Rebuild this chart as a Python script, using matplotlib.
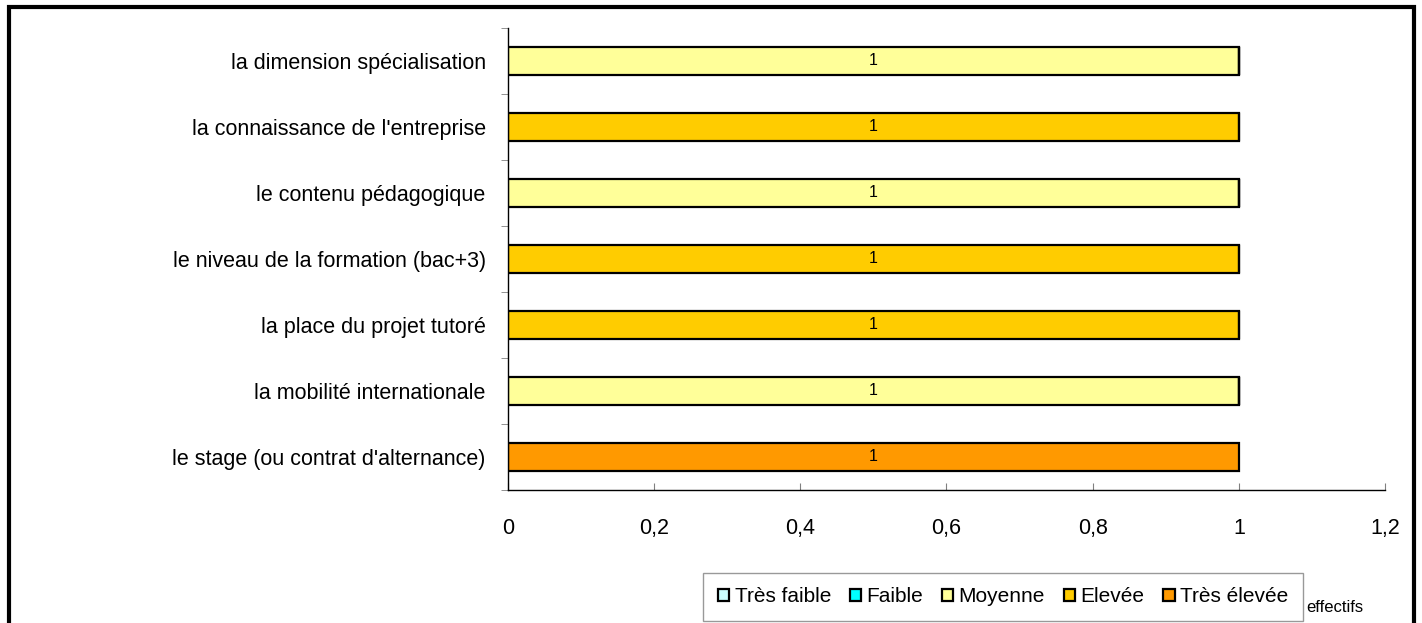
import numpy as np
import matplotlib.pyplot as plt
from matplotlib.patches import Rectangle
from matplotlib.ticker import FuncFormatter, FixedLocator

plt.rcParams['font.family'] = ['Liberation Sans', 'DejaVu Sans']

# data
categories = ["le stage (ou contrat d'alternance)",
              "la mobilité internationale",
              "la place du projet tutoré",
              "le niveau de la formation (bac+3)",
              "le contenu pédagogique",
              "la connaissance de l'entreprise",
              "la dimension spécialisation"]
series_names = ["Très faible", "Faible", "Moyenne", "Elevée", "Très élevée"]
tres_faible = [0, 0, 0, 0, 0, 0, 0]
faible = [0, 0, 0, 0, 0, 0, 0]
moyenne = [0, 1, 0, 0, 1, 0, 1]
elevee = [0, 0, 1, 1, 0, 1, 0]
tres_elevee = [1, 0, 0, 0, 0, 0, 0]
x_ticks = [0, 0.2, 0.4, 0.6, 0.8, 1, 1.2]

colors = ["#CCFFFF", "#00FFFF", "#FFFF99", "#FFCC00", "#FF9900"]

fig = plt.figure(figsize=(14.22, 6.23), dpi=100)
ax = fig.add_axes([0.3572, 0.2135, 0.6168, 0.7416])

y = np.arange(len(categories))
left = np.zeros(len(categories))
for name, vals, col in zip(series_names,
                           [tres_faible, faible, moyenne, elevee, tres_elevee],
                           colors):
    vals = np.array(vals, dtype=float)
    bars = ax.barh(y, vals, left=left, height=0.43, color=col,
                   edgecolor="black", linewidth=1.6, label=name)
    for b, v in zip(bars, vals):
        if v > 0:
            ax.text(b.get_x() + b.get_width() / 2, b.get_y() + b.get_height() / 2,
                    "%g" % v, ha="center", va="center", fontsize=11.5)
    left += vals

ax.set_xlim(0, 1.2)
ax.set_ylim(-0.5, len(categories) - 0.5)
ax.set_xticks(x_ticks)
ax.xaxis.set_major_formatter(FuncFormatter(lambda v, p: ("%g" % v).replace(".", ",")))
ax.set_yticks(y)
ax.set_yticklabels(categories, fontsize=15.5)
ax.yaxis.set_minor_locator(FixedLocator(np.arange(-0.5, len(categories), 1.0)))
ax.tick_params(axis="y", which="major", length=0, pad=16)
ax.tick_params(axis="y", which="minor", length=5, color="#808080", direction="out")
ax.tick_params(axis="x", which="major", length=5, color="#808080", direction="in",
               labelsize=15.5, pad=20)
for s in ["top", "right"]:
    ax.spines[s].set_visible(False)
ax.spines["left"].set_linewidth(1.0)
ax.spines["bottom"].set_linewidth(1.0)

fig.text(1335 / 1422, 1 - 607 / 623, "effectifs", ha="center", va="center", fontsize=12)

leg = fig.legend(loc="center", bbox_to_anchor=(1003 / 1422, 1 - 597 / 623), ncol=5,
                 fontsize=15, frameon=True, fancybox=False, edgecolor="#808080",
                 handlelength=0.55, handleheight=0.55, handletextpad=0.25,
                 columnspacing=0.9, borderpad=0.7)
leg.get_frame().set_linewidth(1.0)

# outer chart border
fig.patches.append(Rectangle((9 / 1422, -0.05), (1414 - 9) / 1422, 1.05 - 7 / 623,
                             transform=fig.transFigure, fill=False,
                             edgecolor="black", linewidth=3))

fig.savefig("out.png", dpi=100)
